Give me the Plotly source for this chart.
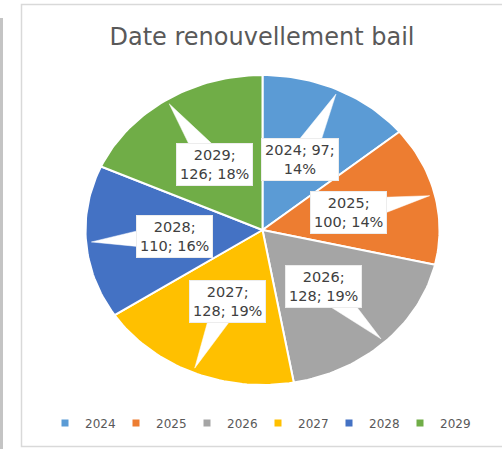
import math
import plotly.graph_objects as go

categories = ["2024", "2025", "2026", "2027", "2028", "2029"]
values = [97, 100, 128, 128, 110, 126]
percent_labels = [14, 14, 19, 19, 16, 18]
colors = ["#5B9BD5", "#ED7D31", "#A5A5A5", "#FFC000", "#4472C4", "#70AD47"]
title_text = "Date renouvellement bail"

W, H = 502, 449
CX, CY = 262.5, 230.0      # pie centre in pixels (from top-left)
RX, RY = 177.0, 155.0      # ellipse radii in pixels

# axis ranges so that 1 data unit = RX px horizontally and RY px vertically
x_range = [-CX / RX, (W - CX) / RX]
y_range = [-(H - CY) / RY, CY / RY]

fig = go.Figure()
total = sum(values)
cum = 0.0
mids = []
for cat, val, col in zip(categories, values, colors):
    a0 = cum / total * 2 * math.pi
    cum += val
    a1 = cum / total * 2 * math.pi
    n = max(8, int((a1 - a0) / (2 * math.pi) * 240))
    xs, ys = [0.0], [0.0]
    for i in range(n + 1):
        a = a0 + (a1 - a0) * i / n
        xs.append(math.sin(a))
        ys.append(math.cos(a))
    xs.append(0.0)
    ys.append(0.0)
    fig.add_trace(go.Scatter(x=xs, y=ys, fill="toself", fillcolor=col, mode="lines",
                             line=dict(color="white", width=2), showlegend=False,
                             hoverinfo="skip"))
    mids.append((a0 + a1) / 2)

# callout pointers (white wedges) from label to slice edge
LABEL_R, TIP_R, HALF_W = 0.5, 0.97, 14.0
for m in mids:
    lx, ly = LABEL_R * math.sin(m), LABEL_R * math.cos(m)
    tx, ty = TIP_R * math.sin(m), TIP_R * math.cos(m)
    dxp, dyp = (tx - lx) * RX, (ty - ly) * RY
    L = math.hypot(dxp, dyp)
    px, py = -dyp / L * HALF_W, dxp / L * HALF_W
    bx = [lx + px / RX, lx - px / RX]
    by = [ly + py / RY, ly - py / RY]
    fig.add_trace(go.Scatter(x=[bx[0], tx, bx[1], bx[0]], y=[by[0], ty, by[1], by[0]],
                             fill="toself", fillcolor="white", mode="lines",
                             line=dict(color="white", width=0.5), showlegend=False,
                             hoverinfo="skip"))

# labels
for cat, val, pct, m in zip(categories, values, percent_labels, mids):
    first = f"{cat}; {val};"
    if len(first) <= 9:
        txt = f"{first}<br>{pct}%"
    else:
        txt = f"{cat};<br>{val}; {pct}%"
    fig.add_annotation(x=LABEL_R * math.sin(m), y=LABEL_R * math.cos(m), text=txt,
                       showarrow=False, bgcolor="white", bordercolor="#EDEDED",
                       borderwidth=1, borderpad=3,
                       font=dict(family="DejaVu Sans", size=14.5, color="#404040"))

# legend entries
for cat, col in zip(categories, colors):
    fig.add_trace(go.Scatter(x=[None], y=[None], mode="markers", name=cat,
                             marker=dict(symbol="square", size=7, color=col)))

shapes = [
    dict(type="rect", xref="paper", yref="paper", x0=21.5 / W, x1=1.02,
         y0=1 - 446.5 / H, y1=1 - 4.5 / H, line=dict(color="#D9D9D9", width=1.5),
         fillcolor="rgba(0,0,0,0)", layer="below"),
    dict(type="rect", xref="paper", yref="paper", x0=0, x1=3 / W,
         y0=0, y1=1 - 18 / H, line=dict(width=0), fillcolor="#C4C4C4", layer="below"),
]

fig.update_layout(
    width=W, height=H,
    margin=dict(l=0, r=0, t=0, b=0),
    paper_bgcolor="white", plot_bgcolor="white",
    xaxis=dict(range=x_range, visible=False, fixedrange=True),
    yaxis=dict(range=y_range, visible=False, fixedrange=True),
    title=dict(text=title_text, x=262 / W, xanchor="center", y=1 - 37 / H, yanchor="middle",
               font=dict(family="DejaVu Sans", size=24, color="#595959")),
    legend=dict(orientation="h", x=258 / W, xanchor="center", y=1 - 423 / H,
                yanchor="middle", entrywidth=26, entrywidthmode="pixels",
                font=dict(family="DejaVu Sans", size=12, color="#595959"),
                bgcolor="rgba(0,0,0,0)"),
    shapes=shapes,
    showlegend=True,
)

fig.write_html("out.html")
